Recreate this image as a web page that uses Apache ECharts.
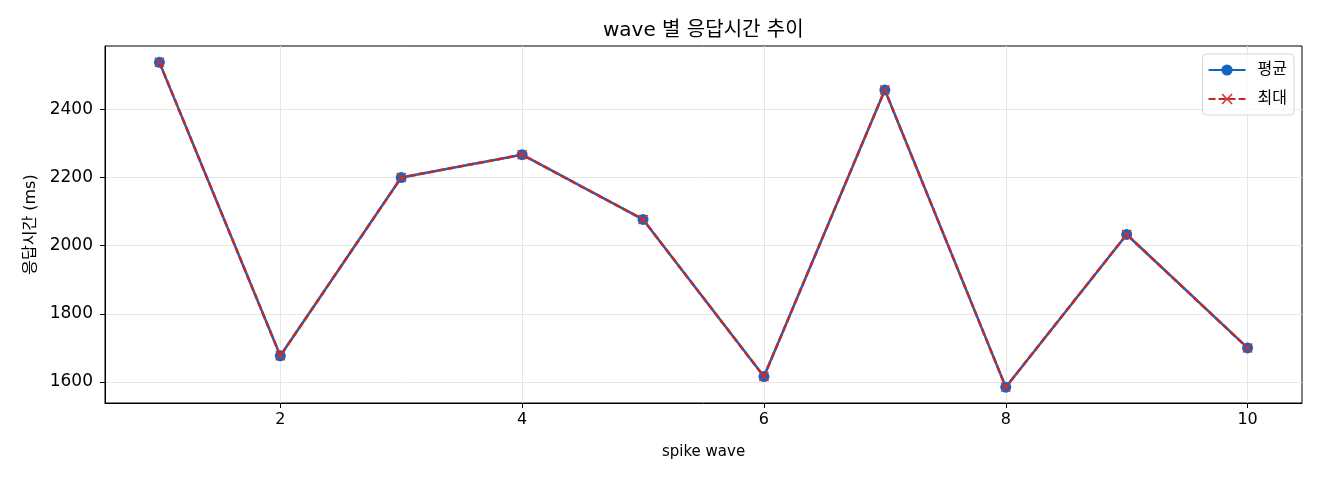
<!DOCTYPE html>
<html>
<head>
<meta charset="UTF-8">
<script type="text/javascript" src="https://cdn.jsdelivr.net/npm/echarts@6/dist/echarts.min.js"></script>
<title>wave 별 응답시간 추이</title>
<style>
	html, body { margin: 0; padding: 0; background: #fff; }
	#main { width: 1320px; height: 480px; }
</style>
</head>
<body>
<div id="main"></div>
<script type="text/javascript">
	// data
	var waves = [1, 2, 3, 4, 5, 6, 7, 8, 9, 10];
	var avgMs = [2538, 1677, 2200, 2267, 2077, 1616, 2457, 1585, 2033, 1700];
	var maxMs = [2538, 1677, 2200, 2267, 2077, 1616, 2457, 1585, 2033, 1700];
	var xTicks = [2, 4, 6, 8, 10];
	var yTicks = [1600, 1800, 2000, 2200, 2400];

	var font = '"DejaVu Sans", "Noto Sans CJK KR", sans-serif';
	var xMark = 'path://M1,0L5,4L9,0L10,1L6,5L10,9L9,10L5,6L1,10L0,9L4,5L0,1Z';

	function pairs(xs, ys) {
		var out = [];
		for (var i in xs) {
			out.push([xs[i], ys[i]]);
		}
		return out;
	}

	var myChart = echarts.init(document.getElementById('main'), null, {renderer: 'canvas'});
	var option = {
		backgroundColor: '#fff',
		animation: false,
		textStyle: { fontFamily: font },
		title: {
			text: 'wave 별 응답시간 추이',
			// centred over the plot area rather than the page
			left: 598,
			top: 16,
			textStyle: { fontFamily: font, fontSize: 20, fontWeight: 'normal', color: '#000' }
		},
		legend: {
			orient: 'vertical',
			right: 26,
			top: 54,
			padding: [8, 7, 8, 5],
			itemWidth: 37,
			itemHeight: 14,
			itemGap: 13,
			borderColor: '#d6d6d6',
			borderWidth: 1,
			borderRadius: 4,
			backgroundColor: 'rgba(255,255,255,0.8)',
			textStyle: { fontFamily: font, fontSize: 16, lineHeight: 16, color: '#000', padding: [0, 0, 0, 7] },
			data: ['평균', '최대']
		},
		grid: {
			left: 105, right: 18, top: 46, bottom: 77,
			show: true,
			borderColor: '#000',
			borderWidth: 1
		},
		xAxis: {
			type: 'value',
			min: 0.55,
			max: 10.45,
			splitNumber: 5,
			name: 'spike wave',
			nameLocation: 'middle',
			nameGap: 42,
			nameTextStyle: { fontFamily: font, fontSize: 15, color: '#000' },
			axisLine: { show: true, lineStyle: { color: '#000', width: 1 } },
			axisTick: { show: true, customValues: xTicks, length: 5, lineStyle: { color: '#000' } },
			axisLabel: {
				customValues: xTicks, fontFamily: font, fontSize: 16, color: '#000', margin: 9,
				formatter: function (v) { return String(v); }
			},
			splitLine: { show: true, lineStyle: { color: '#e6e6e6', width: 1 } }
		},
		yAxis: {
			type: 'value',
			min: 1538.5,
			max: 2586,
			splitNumber: 5,
			name: '응답시간 (ms)',
			nameLocation: 'middle',
			nameRotate: 90,
			nameGap: 62,
			nameTextStyle: { fontFamily: font, fontSize: 16, color: '#000' },
			axisLine: { show: true, lineStyle: { color: '#000', width: 1 } },
			axisTick: { show: true, customValues: yTicks, length: 5, lineStyle: { color: '#000' } },
			axisLabel: {
				customValues: yTicks, fontFamily: font, fontSize: 17, color: '#000', margin: 12,
				formatter: function (v) { return String(v); }
			},
			splitLine: { show: true, lineStyle: { color: '#e6e6e6', width: 1 } }
		},
		series: [
			{
				name: '평균',
				type: 'line',
				data: pairs(waves, avgMs),
				symbol: 'circle',
				symbolSize: 11,
				color: '#1565C0',
				itemStyle: { color: '#1565C0' },
				lineStyle: { color: '#1565C0', width: 2.5 },
				z: 2
			},
			{
				name: '최대',
				type: 'line',
				data: pairs(waves, maxMs),
				symbol: xMark,
				symbolSize: 10,
				color: '#D32F2F',
				itemStyle: { color: '#D32F2F' },
				lineStyle: { color: '#C62828', width: 2.5, type: [7, 3] },
				z: 3
			}
		]
	};
	myChart.setOption(option);
</script>
</body>
</html>
